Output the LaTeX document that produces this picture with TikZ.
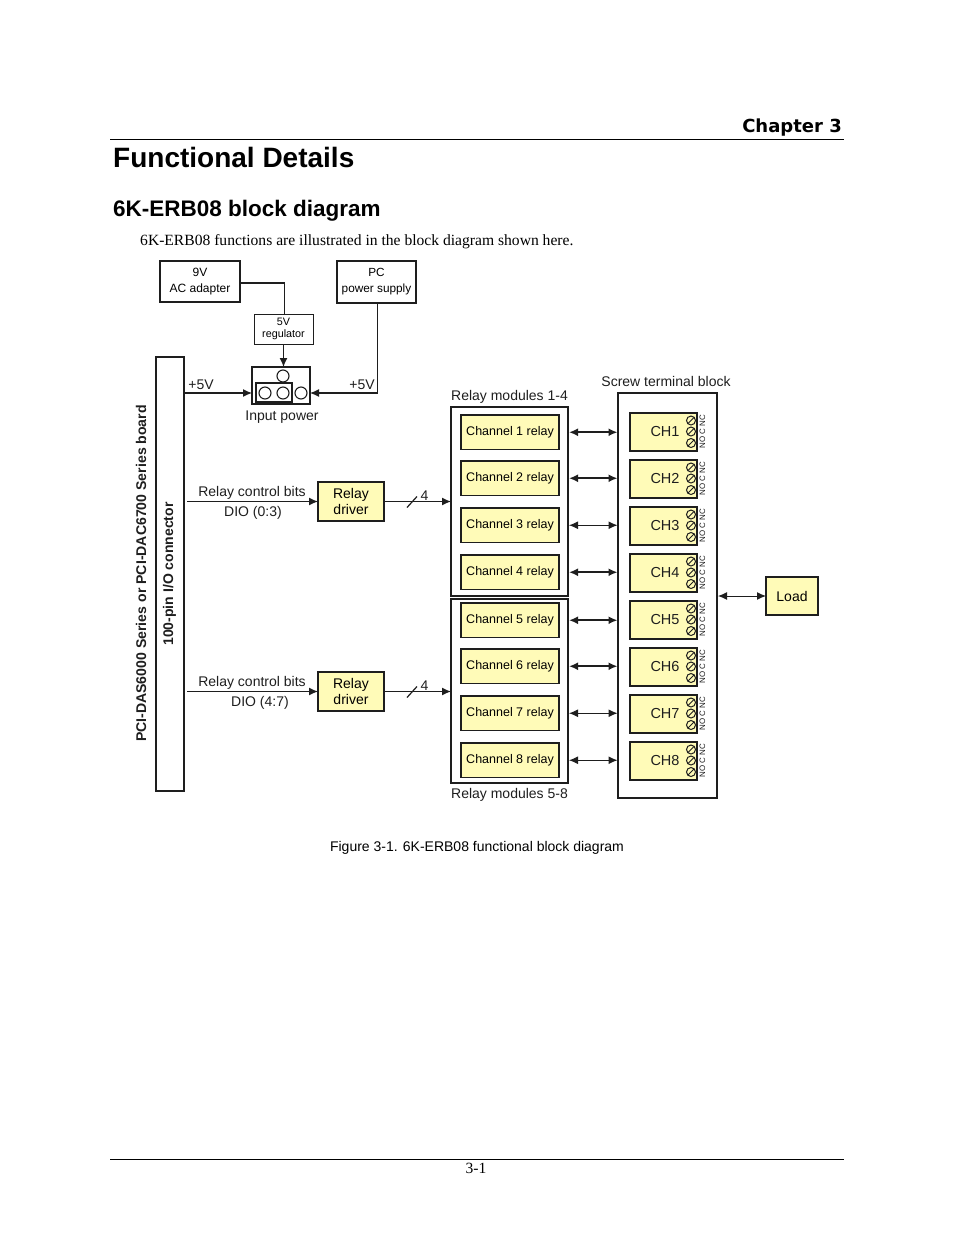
\documentclass[tikz,border=0pt]{standalone}
\usepackage{fontspec}
\setmainfont{Liberation Sans}
\newfontfamily\serifface{Liberation Serif}
\newfontfamily\chapface{DejaVu Sans}
\usetikzlibrary{positioning,calc,arrows.meta}
\definecolor{relayYellow}{RGB}{255, 251, 184}
\definecolor{inkBlack}{RGB}{30, 30, 30}
\newcommand{\fsize}[2]{\fontsize{#1}{#2}\selectfont}

\tikzset{
    plainbox/.style={draw=inkBlack,fill=white,line width=1.1pt,inner sep=0pt,outer sep=0pt,align=center,anchor=north west},
    relaybox/.style={plainbox,fill=relayYellow,line width=1.5pt},
    screw/.style={circle,draw=inkBlack,line width=1pt,minimum size=9pt,inner sep=0pt,
        path picture={\draw[line width=1pt] (path picture bounding box.south west) -- (path picture bounding box.north east);}},
    pinhole/.style={circle,draw=inkBlack,line width=1.1pt,minimum size=12pt,inner sep=0pt},
    wire/.style={line width=1.2pt,draw=inkBlack},
    sigarrow/.style={wire,-{Latex[length=9pt,width=8pt]}},
    thinlink/.style={line width=1pt,draw=inkBlack,{Latex[length=9pt,width=8pt]}-{Latex[length=9pt,width=8pt]}},
    thicklink/.style={thinlink,line width=1.8pt},
    lbl/.style={font=\fsize{14}{20},text=inkBlack,inner sep=0pt}
}

\begin{document}
\begin{tikzpicture}[x=1pt,y=-1pt]
    \useasboundingbox (0,0) rectangle (954,1235);

    % Page furniture
    \node[anchor=east,inner sep=0pt,font=\chapface\bfseries\fsize{18}{20}] (chapter) at (842,127.5) {Chapter 3};
    \coordinate (ruleL) at (110,139);
    \coordinate (ruleR) at (844,139);
    \draw[line width=0.8pt] (ruleL) -- (ruleR);
    \node[anchor=west,inner sep=0pt,font=\bfseries\fsize{28}{30}] (title) at (113,157) {Functional Details};
    \node[anchor=west,inner sep=0pt,font=\bfseries\fsize{22.5}{24}] (section) at (113,211) {6K-ERB08 block diagram};
    \node[anchor=west,inner sep=0pt,font=\serifface\fsize{15.6}{18}] (intro) at (140,242) {6K-ERB08 functions are illustrated in the block diagram shown here.};
    \node[inner sep=0pt,font=\fsize{14}{16}] (caption) at (477,848) {Figure 3-1. 6K-ERB08 functional block diagram};
    \coordinate (footL) at (110,1159);
    \coordinate (footR) at (844,1159);
    \draw[line width=0.8pt] (footL) -- (footR);
    \node[inner sep=0pt,font=\serifface\fsize{15.6}{18}] (pagenum) at (476,1168) {3-1};

    % Power inputs
    \node[plainbox,minimum width=80pt,minimum height=41pt,font=\fsize{12}{16}] (adapter) at (160,261) {9V\\AC adapter};
    \node[plainbox,minimum width=79pt,minimum height=42pt,font=\fsize{11.8}{16}] (pcsupply) at (337,261) {PC\\power supply};
    \node[plainbox,line width=0.9pt,minimum width=59pt,minimum height=30pt,font=\fsize{10.8}{12}] (regulator) at (254,314) {5V\\regulator};
    \node[plainbox,minimum width=58pt,minimum height=37pt] (inpower) at (252,367) {};
    \node[pinhole] (pinT) at (283,376) {};
    \node[pinhole] (pinA) at (265,393) {};
    \node[pinhole] (pinB) at (283,393) {};
    \node[pinhole] (pinC) at (301,393) {};
    \draw[line width=1.1pt,draw=inkBlack] (256,383) rectangle (292,402);
    \node[lbl] (inpowerlbl) at (282,417) {Input power};

    % I/O connector
    \node[plainbox,line width=1.4pt,minimum width=28pt,minimum height=434pt] (connector) at (156,357) {};
    \node[lbl,rotate=90,font=\bfseries\fsize{14.1}{15}] (boardlbl) at (141,573.5) {PCI-DAS6000 Series or PCI-DAC6700 Series board};
    \node[lbl,rotate=90,font=\bfseries\fsize{14}{15}] (connlbl) at (169.5,574) {100-pin I/O connector};

    \draw[wire] ([yshift=-1.5pt]adapter.east) -| ([xshift=1pt]regulator.north);
    \draw[sigarrow] (regulator.south) -- (regulator.south |- inpower.north);
    \coordinate (pwrL) at (connector.east |- pinB);
    \draw[sigarrow] (pwrL) -- (pinB -| inpower.west);
    \draw[sigarrow] ([xshift=1pt]pcsupply.south) |- (pinC -| inpower.east);
    \node[lbl] (fiveL) at (201,385) {+5V};
    \node[lbl] (fiveR) at (362,385) {+5V};

    % Relay modules
    \node[plainbox,minimum width=117pt,minimum height=189pt] (modA) at (451,407) {};
    \node[plainbox,minimum width=117pt,minimum height=184pt] (modB) at (451,599) {};
    \node[lbl] (modAlbl) at (509.5,397) {Relay modules 1-4};
    \node[lbl] (modBlbl) at (509.5,795) {Relay modules 5-8};

    % Drivers
    \foreach \n/\y/\bits/\diox in {A/482/0:3/253, B/672/4:7/260} {
        \node[relaybox,minimum width=66pt,minimum height=39pt,font=\fsize{14}{16}] (drv\n) at (318,\y) {Relay\\driver};
        \coordinate (src\n) at (187,\y+19.5);
        \draw[sigarrow] (src\n) -- (drv\n.west);
        \coordinate (bus\n) at (451,\y+19.5);
        \draw[sigarrow] (drv\n.east) -- (bus\n);
        \draw[wire] (407,\y+25.5) -- (417,\y+14.5);
        \node[lbl] (four\n) at (424.5,\y+13.5) {4};
        \node[lbl] (ctl\n) at (252,\y+11) {Relay control bits};
        \node[lbl] (dio\n) at (\diox,\y+31) {DIO (\bits)};
    }

    % Screw terminal block
    \node[plainbox,line width=1.3pt,minimum width=99pt,minimum height=405pt] (block) at (618,393) {};
    \node[lbl] (blocklbl) at (666,381) {Screw terminal block};

    \foreach \i/\ry/\cy/\style in {1/415/413/thicklink, 2/461/460/thicklink, 3/508/507/thinlink, 4/555/554/thicklink,
        5/603/601/thicklink, 6/649/648/thicklink, 7/696/695/thinlink, 8/743/742/thinlink} {
        \node[relaybox,minimum width=98pt,minimum height=34.5pt,font=\fsize{12.5}{14}] (rly\i) at (461,\ry) {Channel \i\ relay};
        \node[relaybox,minimum width=67pt,minimum height=38pt] (ch\i) at (630,\cy) {};
        \node[lbl,font=\fsize{14.5}{16}] (chlbl\i) at (665,\cy+18.5) {CH\i};
        \node[screw] (scrA\i) at (691,\cy+7.5) {};
        \node[screw] (scrB\i) at (691,\cy+18.5) {};
        \node[screw] (scrC\i) at (691,\cy+30) {};
        \node[lbl,rotate=90,font=\fsize{7.9}{9}] (pins\i) at (702.5,\cy+18.5) {NO C NC};
        \draw[\style] ([xshift=1pt]modA.east |- rly\i) -- ([xshift=-0.5pt]rly\i -| block.west);
    }

    % Load
    \node[relaybox,minimum width=52pt,minimum height=38pt,font=\fsize{14}{16}] (load) at (766,577) {Load};
    \draw[thinlink] ([xshift=1pt]load.west -| block.east) -- (load.west);
\end{tikzpicture}
\end{document}
